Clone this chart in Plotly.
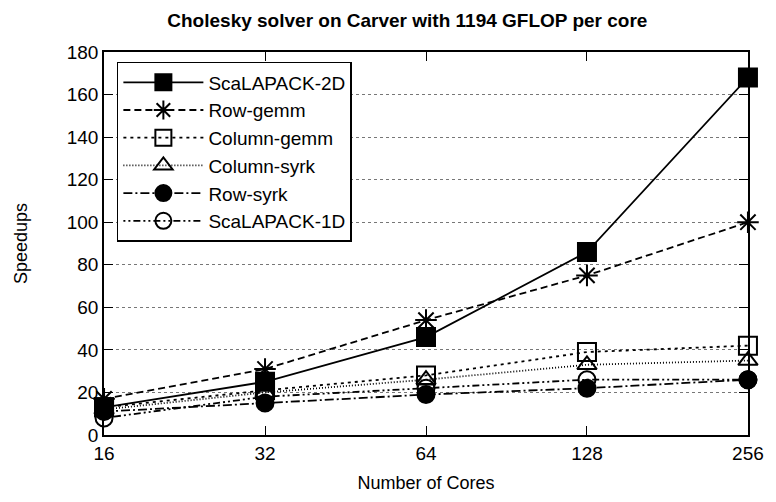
import math

import plotly.graph_objects as go

# Datos
cores = [16, 32, 64, 128, 256]
scalapack_2d = [13, 25, 46, 86, 168]
row_gemm = [17, 31, 54, 75, 100]
column_gemm = [13, 21, 28, 39, 42]
column_syrk = [12, 20, 26, 33, 35]
row_syrk = [11, 15, 19, 22, 26]
scalapack_1d = [8, 18, 22, 26, 26]

y_ticks = [0, 20, 40, 60, 80, 100, 120, 140, 160, 180]

series = [
    ("ScaLAPACK-2D", scalapack_2d, "solid", "square", 18),
    ("Row-gemm", row_gemm, "7px,4px", "asterisk-open", 18),
    ("Column-gemm", column_gemm, "3px,4px", "square-open", 18),
    ("Column-syrk", column_syrk, "1px,2px", "triangle-up-open", 17),
    ("Row-syrk", row_syrk, "9px,3px,2px,3px", "circle", 17),
    ("ScaLAPACK-1D", scalapack_1d, "2px,3px,2px,3px,7px,3px", "circle-open", 17),
]

fig = go.Figure()
for nombre, valores, dash, simbolo, tam in series:
    fig.add_trace(go.Scatter(
        x=cores, y=valores, name=nombre, mode="lines+markers",
        line=dict(color="black", width=1.8, dash=dash),
        marker=dict(symbol=simbolo, size=tam, color="black",
                    line=dict(color="black", width=2)),
        cliponaxis=False,
    ))

# La página añade ~8px de margen, por eso el tamaño es algo menor
eps = 1e-4
fig.update_layout(
    width=768, height=494,
    paper_bgcolor="white", plot_bgcolor="white",
    font=dict(family="Liberation Sans, Arial, sans-serif", size=19, color="black"),
    title=dict(text="<b>Cholesky solver on Carver with 1194 GFLOP per core</b>",
               x=0.52, xanchor="center", y=0.988, font=dict(size=19)),
    margin=dict(l=95, r=18, t=44, b=58),
    showlegend=True,
    legend=dict(x=0.02, y=0.974, xanchor="left", yanchor="top",
                bgcolor="white", bordercolor="black", borderwidth=1.5,
                font=dict(size=19), tracegroupgap=0, itemwidth=80),
    xaxis=dict(
        type="log", range=[math.log10(16) - eps, math.log10(256) + eps],
        tickvals=cores, ticktext=[str(c) for c in cores],
        title=dict(text="Number of Cores", standoff=14, font=dict(size=18)),
        showgrid=False, zeroline=False,
        showline=True, linecolor="black", linewidth=1.5, mirror="ticks",
        ticks="inside", ticklen=9, tickcolor="black",
    ),
    yaxis=dict(
        range=[0, 180], tickvals=y_ticks,
        title=dict(text="Speedups", standoff=34, font=dict(size=18)),
        showgrid=True, gridcolor="#777777", gridwidth=1, griddash="dot",
        zeroline=False,
        showline=True, linecolor="black", linewidth=1.5, mirror="ticks",
        ticks="inside", ticklen=9, tickcolor="black",
    ),
)

fig.write_html("out.html")
